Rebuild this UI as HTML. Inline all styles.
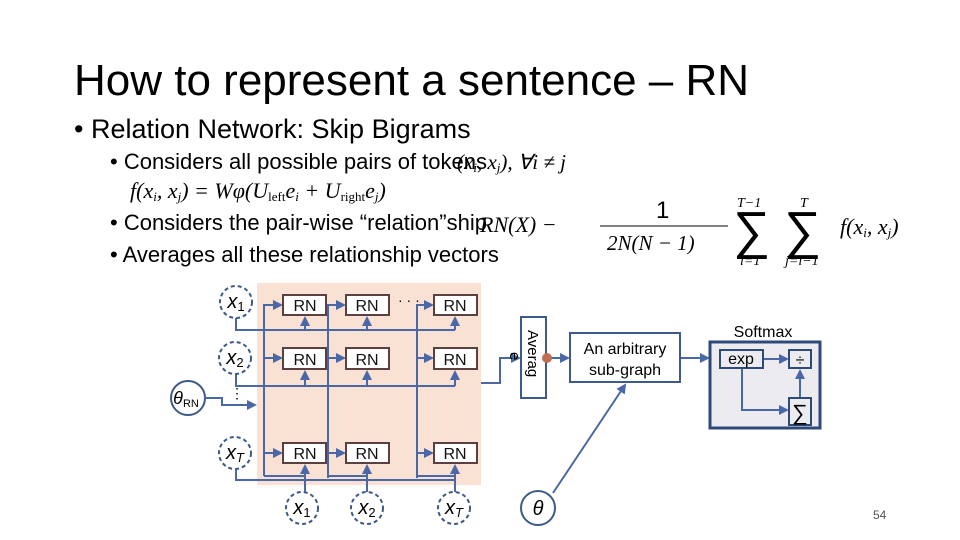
<!DOCTYPE html><html><head><style>
body{margin:0;background:#fff}
svg{display:block}
text{font-family:"Liberation Sans",sans-serif}
.m{font-family:"Liberation Serif",serif;font-style:italic}
</style></head><body>
<svg width="960" height="540" viewBox="0 0 960 540">
<defs><marker id="a" markerWidth="5" markerHeight="5" refX="4" refY="2.5" orient="auto"><path d="M0,0L5,2.5L0,5z" fill="#4a68a8"/></marker></defs>
<text x="74" y="95" font-size="44" fill="#000">How to represent a sentence – RN</text>
<text x="74" y="138" font-size="27">• Relation Network: Skip Bigrams</text>
<text x="110" y="169" font-size="22">• Considers all possible pairs of tokens</text>
<text x="457" y="169" font-size="21" class="m">(x<tspan font-size="13" dy="3">i</tspan><tspan dy="-3">, x</tspan><tspan font-size="13" dy="3">j</tspan><tspan dy="-3">), ∀i ≠ j</tspan></text>
<text x="130" y="198" font-size="22" class="m">f(x<tspan font-size="13" dy="3">i</tspan><tspan dy="-3">, x</tspan><tspan font-size="13" dy="3">j</tspan><tspan dy="-3">) = Wφ(U</tspan><tspan font-size="13" dy="3" font-style="normal">left</tspan><tspan dy="-3">e</tspan><tspan font-size="13" dy="3">i</tspan><tspan dy="-3"> + U</tspan><tspan font-size="13" dy="3" font-style="normal">right</tspan><tspan dy="-3">e</tspan><tspan font-size="13" dy="3">j</tspan><tspan dy="-3">)</tspan></text>
<text x="110" y="230" font-size="22">• Considers the pair-wise “relation”ship</text>
<text x="480" y="232" font-size="22" class="m">RN(X) −</text>
<text x="110" y="262" font-size="22">• Averages all these relationship vectors</text>
<text x="656" y="218" font-size="24" font-family="Liberation Serif">1</text>
<line x1="600" y1="226" x2="728" y2="226" stroke="#000"/>
<text x="607" y="250" font-size="21" class="m">2N(N − 1)</text>
<text x="737" y="207" font-size="14" class="m">T−1</text>
<text x="733" y="248" font-size="52" font-family="Liberation Serif">∑</text>
<text x="740" y="265" font-size="14" class="m">i=1</text>
<text x="800" y="207" font-size="14" class="m">T</text>
<text x="784" y="248" font-size="52" font-family="Liberation Serif">∑</text>
<text x="785" y="265" font-size="14" class="m">j=i−1</text>
<text x="840" y="234" font-size="22" class="m">f(x<tspan font-size="13" dy="3">i</tspan><tspan dy="-3">, x</tspan><tspan font-size="13" dy="3">j</tspan><tspan dy="-3">)</tspan></text>

<rect x="257" y="283" width="224" height="202" fill="#f9e1d3"/>
<g stroke="#4a68a8" stroke-width="2" fill="none">
<path d="M264,476V305H281" marker-end="url(#a)"/><path d="M264,358H281" marker-end="url(#a)"/><path d="M264,453H281" marker-end="url(#a)"/>
<path d="M328,478V305H344" marker-end="url(#a)"/><path d="M328,358H344" marker-end="url(#a)"/><path d="M328,453H344" marker-end="url(#a)"/>
<path d="M417,478V305H432" marker-end="url(#a)"/><path d="M417,358H432" marker-end="url(#a)"/><path d="M417,453H432" marker-end="url(#a)"/>
<path d="M236,318V330H455"/><path d="M305,330V318" marker-end="url(#a)"/><path d="M367,330V318" marker-end="url(#a)"/><path d="M455,330V318" marker-end="url(#a)"/>
<path d="M236,374V386H455"/><path d="M305,386V372" marker-end="url(#a)"/><path d="M367,386V372" marker-end="url(#a)"/><path d="M455,386V372" marker-end="url(#a)"/>
<path d="M236,469V480H455"/>
<path d="M264,476H305"/><path d="M328,476H367"/><path d="M417,476H455"/>
<path d="M305,492V466" marker-end="url(#a)"/><path d="M367,492V466" marker-end="url(#a)"/><path d="M455,492V466" marker-end="url(#a)"/>
<path d="M206,398H222V405H255" marker-end="url(#a)"/>
<path d="M481,383H500V358H519" marker-end="url(#a)"/>
<path d="M547,358H568" marker-end="url(#a)"/>
<path d="M680,358H708" marker-end="url(#a)"/>
<path d="M553,493L625,385" marker-end="url(#a)"/>
</g>
<g fill="#fff" stroke="#5a4040" stroke-width="2">
<rect x="283" y="295" width="43" height="20"/><rect x="346" y="295" width="43" height="20"/><rect x="434" y="295" width="43" height="20"/>
<rect x="283" y="348" width="43" height="21"/><rect x="346" y="348" width="43" height="21"/><rect x="434" y="348" width="43" height="21"/>
<rect x="283" y="443" width="43" height="20"/><rect x="346" y="443" width="43" height="20"/><rect x="434" y="443" width="43" height="20"/>
</g>
<g font-size="16" text-anchor="middle" fill="#111">
<text x="305" y="311">RN</text><text x="367" y="311">RN</text><text x="455" y="311">RN</text>
<text x="305" y="365">RN</text><text x="367" y="365">RN</text><text x="455" y="365">RN</text>
<text x="305" y="459">RN</text><text x="367" y="459">RN</text><text x="455" y="459">RN</text>
</g>
<text x="398" y="305" font-size="14">· · ·</text>
<text x="230" y="398" font-size="14">⋮</text>
<g fill="#fff" stroke="#3e5a8a" stroke-width="2" stroke-dasharray="4,3">
<circle cx="236" cy="302" r="16"/><circle cx="235" cy="358" r="16"/><circle cx="235" cy="453" r="16"/>
<circle cx="302" cy="508" r="16"/><circle cx="367" cy="508" r="16"/><circle cx="454" cy="508" r="16"/>
</g>
<circle cx="188" cy="398" r="17" fill="#fff" stroke="#3e5a8a" stroke-width="2"/>
<circle cx="538" cy="508" r="17" fill="#fff" stroke="#3e5a8a" stroke-width="2"/>
<g class="m" font-size="20" text-anchor="middle">
<text x="236" y="308">x<tspan font-size="13" font-style="normal" dy="3">1</tspan></text>
<text x="235" y="364">x<tspan font-size="13" font-style="normal" dy="3">2</tspan></text>
<text x="235" y="459">x<tspan font-size="13" dy="3">T</tspan></text>
<text x="302" y="514">x<tspan font-size="13" font-style="normal" dy="3">1</tspan></text>
<text x="367" y="514">x<tspan font-size="13" font-style="normal" dy="3">2</tspan></text>
<text x="454" y="514">x<tspan font-size="13" dy="3">T</tspan></text>
<text x="186" y="404" font-size="18">θ<tspan font-size="11" font-style="normal" dy="3">RN</tspan></text>
<text x="538" y="515">θ</text>
</g>
<rect x="521" y="317" width="25" height="81" fill="#fff" stroke="#3e5a8a" stroke-width="2"/>
<text transform="translate(528,330) rotate(90)" font-size="15">Averag</text>
<text transform="translate(510,352) rotate(90)" font-size="15">e</text>
<circle cx="547" cy="358" r="5" fill="#c07050"/>
<rect x="570" y="333" width="110" height="49" fill="#fff" stroke="#3e5a8a" stroke-width="2"/>
<text x="625" y="354" font-size="16" text-anchor="middle">An arbitrary</text>
<text x="625" y="375" font-size="16" text-anchor="middle">sub-graph</text>
<text x="763" y="337" font-size="16" text-anchor="middle">Softmax</text>
<rect x="710" y="342" width="110" height="86" fill="#ececf0" stroke="#2f4a7a" stroke-width="3"/>
<g stroke="#4a68a8" stroke-width="2" fill="none">
<path d="M763,359H787" marker-end="url(#a)"/><path d="M742,368V410H787" marker-end="url(#a)"/><path d="M800,398V371" marker-end="url(#a)"/>
</g>
<g fill="#ececf0" stroke="#2f4a7a" stroke-width="2">
<rect x="720" y="350" width="43" height="18"/><rect x="789" y="350" width="22" height="18"/><rect x="789" y="398" width="22" height="27"/>
</g>
<text x="741" y="364" font-size="16" font-family="Liberation Serif" text-anchor="middle">exp</text>
<text x="800" y="365" font-size="16" text-anchor="middle">÷</text>
<text x="800" y="420" font-size="22" font-family="Liberation Serif" text-anchor="middle">∑</text>
<text x="873" y="519" font-size="12" fill="#555">54</text>
</svg>
</body></html>
